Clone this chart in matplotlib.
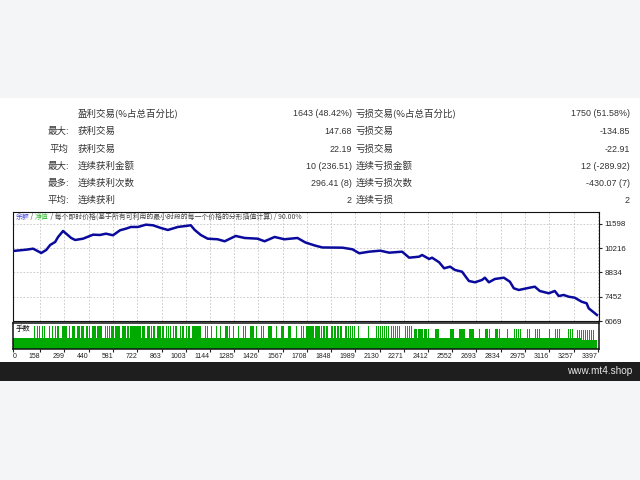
import matplotlib
matplotlib.use("Agg")
import matplotlib.pyplot as plt
from matplotlib.patches import Rectangle

# ---------------- data ----------------
bal_trades = [0, 77, 117, 164, 193, 216, 245, 262, 291, 309, 338, 361, 407, 465, 506, 540, 581, 622, 656, 685,
              726, 772, 813, 859, 900, 958, 1004, 1033, 1056, 1091, 1131, 1189, 1230, 1294, 1346, 1421, 1462, 1520,
              1577, 1653, 1699, 1757, 1798, 1914, 1972, 2012, 2070, 2134, 2186, 2261, 2302, 2360, 2377, 2418, 2435,
              2476, 2505, 2540, 2568, 2609, 2649, 2684, 2725, 2742, 2765, 2800, 2852, 2887, 2910, 2939, 2985, 3032,
              3061, 3113, 3148, 3171, 3200, 3229, 3264, 3304, 3333, 3345, 3374, 3393]
bal_values = [10059, 10133, 10190, 9945, 10116, 10401, 10572, 10857, 11199, 11045, 10800, 10686, 10760, 10988,
              10971, 11045, 10954, 11239, 11330, 11427, 11427, 11558, 11524, 11370, 11256, 11427, 11484, 11524,
              11256, 10971, 10760, 10726, 10612, 10914, 10800, 10760, 10612, 10857, 10726, 10800, 10544, 10361,
              10259, 10247, 10156, 9928, 10019, 10076, 9962, 10019, 9677, 9734, 9831, 9603, 9677, 9415, 9073, 9164,
              8976, 8879, 8349, 8275, 8406, 8537, 8275, 8463, 8537, 8309, 7933, 7836, 7933, 8024, 7779, 7648, 7779,
              7494, 7551, 7454, 7397, 7169, 7078, 6793, 6565, 6411]

# lot sizes: base runs and larger-lot trades
base_starts = [0, 3300]
base_ends = [3300, 3393]
base_lots = [0.10, 0.085]

spikes_a = [127, 141, 156, 171, 181, 214, 229, 249, 262, 291, 300, 307, 310, 330, 349, 359, 378, 388, 396, 404,
            411, 430, 446, 465, 474, 481, 494, 503, 511, 539, 548, 562, 571, 581, 598, 607, 616, 639, 648, 656,
            668, 685, 691, 697, 703, 708, 714, 720, 726, 734, 743, 752, 761, 784, 794, 807, 816, 824, 842, 850,
            859, 868, 876, 894, 905, 914, 934, 943, 952, 975, 984, 992, 1010, 1018, 1027, 1044, 1050, 1056, 1062,
            1068, 1073, 1079, 1085, 1091, 1120, 1128,
            1155, 1184, 1204, 1236, 1244, 1259, 1282, 1311, 1340, 1349, 1381, 1389, 1398, 1415, 1444, 1456, 1485,
            1493, 1502, 1531, 1560, 1569, 1601, 1609, 1647, 1676, 1688, 1705, 1714, 1722, 1731, 1740, 1748, 1757,
            1766, 1774, 1783, 1792, 1803, 1812, 1821, 1829, 1850, 1858, 1867, 1876, 1885, 1893, 1902, 1911, 1931,
            1939, 1948, 1960, 1971, 1983, 2006, 2064, 2110, 2122, 2134, 2145, 2157, 2168, 2180, 2198, 2209, 2221,
            2232, 2244, 2279, 2290, 2302, 2314]
lot_a = 0.21
spikes_c = [2331, 2342, 2354, 2365, 2377, 2389, 2400, 2412, 2458, 2470, 2545, 2557, 2597, 2609, 2620, 2655,
            2667, 2678, 2710, 2748, 2759, 2771, 2806, 2817, 2829, 2875, 2916, 2927, 2939, 2950, 2991, 3003, 3038,
            3049, 3061, 3119, 3153, 3165, 3177, 3229, 3241, 3252]
lot_c = 0.19
spikes_d = [3281, 3293, 3304, 3316, 3327, 3339, 3351, 3362, 3374]
lot_d = 0.175

x_ticks = [0, 158, 299, 440, 581, 722, 863, 1003, 1144, 1285, 1426, 1567, 1708, 1848, 1989, 2130, 2271,
           2412, 2552, 2693, 2834, 2975, 3116, 3257, 3397]
y_ticks = [6069, 7452, 8834, 10216, 11598]

row_pre = ["", "最大:", "平均", "最大:", "最多:", "平均:"]
win_labels = ["盈利交易(%占总百分比)", "获利交易", "获利交易", "连续获利金额", "连续获利次数", "连续获利"]
win_values = ["1643 (48.42%)", "147.68", "22.19", "10 (236.51)", "296.41 (8)", "2"]
loss_labels = ["亏损交易(%占总百分比)", "亏损交易", "亏损交易", "连续亏损金额", "连续亏损次数", "连续亏损"]
loss_values = ["1750 (51.58%)", "-134.85", "-22.91", "12 (-289.92)", "-430.07 (7)", "2"]

legend_parts = [("余额", "#4646d8"), (" / ", "#444444"), ("净值", "#3cbc3c"),
                (" / 每个即时价格(基于所有可利用的最小时段的每一个价格的分形插值计算) / 90.00%", "#444444")]

# ---------------- figure ----------------
W, H = 640, 480
CJK = ['Noto Sans CJK SC', 'DejaVu Sans']
NUM = ['Liberation Sans', 'DejaVu Sans']

fig = plt.figure(figsize=(6.4, 4.8), dpi=100, facecolor='#f4f5f7')

def fy(p):
    return 1 - p / H

def fx(p):
    return p / W

fig.patches.append(Rectangle((0, fy(362)), 1, (362 - 98) / H, transform=fig.transFigure,
                             facecolor='white', edgecolor='none', zorder=-5))
fig.patches.append(Rectangle((0, fy(381)), 1, 19 / H, transform=fig.transFigure,
                             facecolor='#1e1e1e', edgecolor='none', zorder=-5))
fig.text(fx(632), fy(371.5), "www.mt4.shop", color='#e6e6e6', fontsize=7.2, family=NUM,
         ha='right', va='center')

# table
row_y = [113.3, 131, 149, 166.3, 183.5, 200.5]
tc = '#333333'
cf = 6.8
for i, y in enumerate(row_y):
    if row_pre[i]:
        fig.text(fx(69), fy(y), row_pre[i], ha='right', va='center', fontsize=cf, family=CJK, color=tc)
    fig.text(fx(78), fy(y), win_labels[i], ha='left', va='center', fontsize=cf, family=CJK, color=tc)
    fig.text(fx(352), fy(y), win_values[i], ha='right', va='center', fontsize=6.4, family=NUM, color=tc)
    fig.text(fx(356), fy(y), loss_labels[i], ha='left', va='center', fontsize=cf, family=CJK, color=tc)
    fig.text(fx(630), fy(y), loss_values[i], ha='right', va='center', fontsize=6.4, family=NUM, color=tc)

# main balance axes
ax = fig.add_axes([fx(13), fy(321), fx(586), 109 / H])
ax.set_facecolor('white')
ax.plot(bal_trades, bal_values, color='#0a0a9c', lw=1.8, zorder=3)
ax.set_xlim(0, 3405)
ax.set_ylim(6069, 12280)
ax.set_xticks(x_ticks)
ax.set_yticks(y_ticks)
ax.yaxis.tick_right()
ax.tick_params(axis='y', length=2, pad=2, labelsize=5.7, colors='#222222')
for lab in ax.get_yticklabels():
    lab.set_family(NUM)
ax.tick_params(axis='x', length=0, labelbottom=False)
ax.grid(True, color='#c4c4c4', linestyle=(0, (2, 2)), linewidth=0.6, zorder=1)
for s in ax.spines.values():
    s.set_color('#111111')
    s.set_linewidth(0.8)

t = ax.text(0.004, 0.99, legend_parts[0][0], transform=ax.transAxes, color=legend_parts[0][1],
            fontsize=4.95, family=CJK, ha='left', va='top', zorder=5)
for txt, col in legend_parts[1:]:
    t = ax.annotate(txt, xy=(1, 0), xycoords=t, ha='left', va='bottom', color=col,
                    fontsize=4.95, family=CJK, zorder=5)

# volume axes
av = fig.add_axes([fx(13), fy(348.5), fx(586), 25.2 / H])
av.set_facecolor('white')
green = '#00aa00'
for s0, s1, lot in zip(base_starts, base_ends, base_lots):
    av.fill_between([s0, s1], [0, 0], [lot, lot], color=green, lw=0, zorder=2)
av.bar(spikes_a, [lot_a] * len(spikes_a), width=7, color=green, lw=0, zorder=2)
av.bar(spikes_c, [lot_c] * len(spikes_c), width=7, color=green, lw=0, zorder=2)
av.bar(spikes_d, [lot_d] * len(spikes_d), width=7, color=green, lw=0, zorder=2)
av.set_xlim(0, 3405)
av.set_ylim(0, 0.24)
av.set_yticks([])
av.set_xticks(x_ticks)
av.set_xticklabels([str(v) for v in x_ticks])
av.tick_params(axis='x', length=2, pad=1.5, labelsize=5.0, colors='#222222')
for i, lab in enumerate(av.get_xticklabels()):
    lab.set_family(NUM)
    lab.set_ha('left' if i == 0 else 'right')
for s in av.spines.values():
    s.set_color('#111111')
    s.set_linewidth(1.1)
av.text(0.004, 0.93, "手数", transform=av.transAxes, fontsize=5.3, family=CJK, color='#111111',
        ha='left', va='top', zorder=5)

fig.savefig("out.png", dpi=100, facecolor=fig.get_facecolor())
